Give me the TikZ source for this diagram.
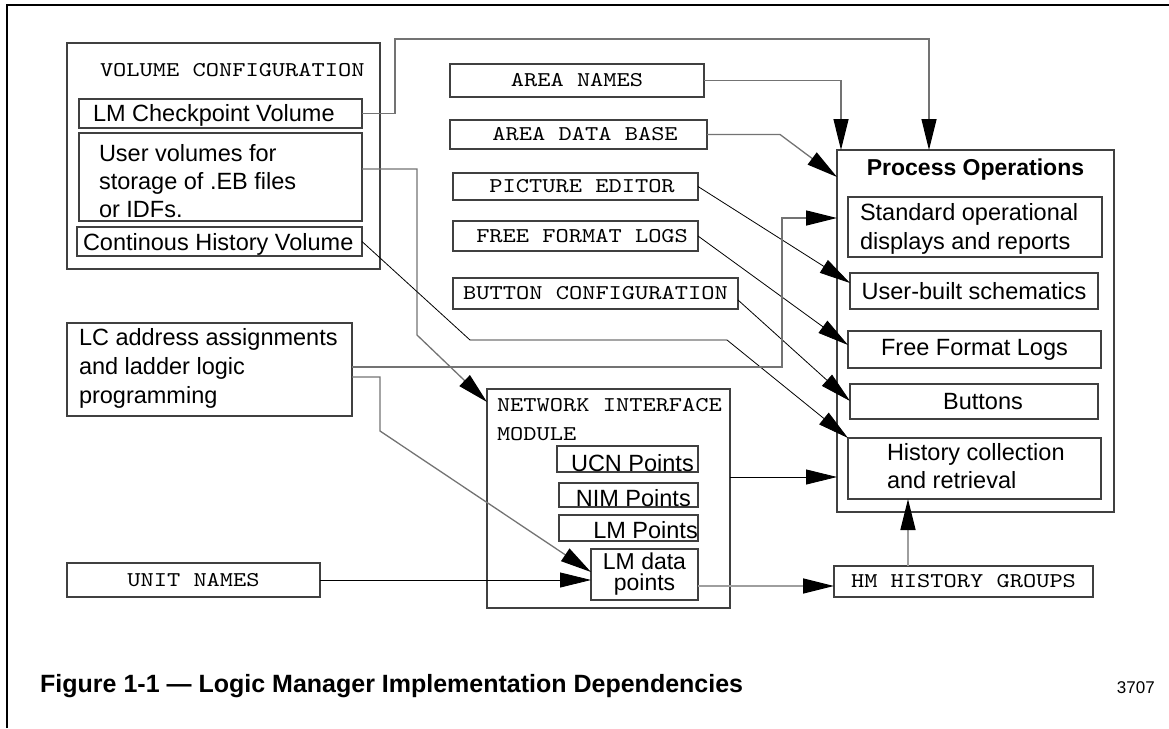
\documentclass[tikz,border=0pt]{standalone}
\usepackage{fontspec}
\setmainfont{Liberation Sans}
\newfontfamily\codefont[FakeStretch=1.2]{lmmono10-regular.otf}
\usetikzlibrary{arrows.meta,calc}

\definecolor{boxline}{gray}{0.25}
\definecolor{wirecol}{gray}{0.45}
\definecolor{lightwire}{gray}{0.62}

\newcommand\sansfs{\fontsize{23.5}{29}\selectfont}
\newcommand\codefs{\codefont\fontsize{21}{29}\selectfont}

\tikzset{
  box/.style={draw=boxline, line width=1.3pt, inner sep=0pt, outer sep=0pt},
  monobox/.style={box, font=\codefs},
  sansbox/.style={box, font=\sansfs},
  % multi-line texts are placed by the baseline of their last line
  txt/.style={inner sep=0pt, outer sep=0pt, anchor=base west, align=left},
  wire/.style={draw=wirecol, line width=1.3pt},
  thinwire/.style={draw=black, line width=0.8pt},
  palewire/.style={draw=lightwire, line width=1.6pt},
  bigtip/.style={-{Triangle[length=31pt,width=15pt,color=black]}},
}

\begin{document}
\begin{tikzpicture}[x=1pt,y=-1pt]
\useasboundingbox (0,0) rectangle (1169,728);

% page frame (top and left rules)
\draw[line width=2.7pt] (7,728) -- (7,5) -- (1169,5);

% ---- volume configuration group
\node[box, minimum width=313, minimum height=226] (volcfg) at (223.5,156) {};
\node[txt, font=\codefs] (volcfgtitle) at (100,76) {VOLUME CONFIGURATION};
\node[sansbox, minimum width=283, minimum height=29] (lmcp) at (220.5,113.5) {};
\node[txt, font=\sansfs] (lmcptext) at (93,121) {LM Checkpoint Volume};
\node[sansbox, minimum width=283, minimum height=88] (uvol) at (220.5,177) {};
\node[txt, font=\fontsize{23.5}{28}\selectfont] (uvoltext) at (99,217)
  {User volumes for\\storage of .EB files\\or IDFs.};
\node[sansbox, minimum width=285, minimum height=29] (chv) at (219.5,241.5) {};
\node[txt, font=\sansfs] (chvtext) at (83,250) {Continous History Volume};

% ---- configuration sources
\node[monobox, minimum width=254, minimum height=33] (areanames) at (577,80.5) {AREA NAMES};
\node[monobox, minimum width=257, minimum height=29] (areadb) at (578.5,134.5) {\hspace*{13.2pt}AREA DATA BASE};
\node[monobox, minimum width=245, minimum height=27] (piced) at (575.5,186.5) {\hspace*{13.2pt}PICTURE EDITOR};
\node[monobox, minimum width=245, minimum height=30] (ffl) at (575.5,236) {\hspace*{13.2pt}FREE FORMAT LOGS};
\node[monobox, minimum width=285, minimum height=31] (btncfg) at (595.5,293.5) {BUTTON CONFIGURATION};

\node[sansbox, minimum width=285, minimum height=93] (lc) at (209.5,369.5) {};
\node[txt, font=\sansfs] (lctext) at (79,403)
  {LC address assignments\\and ladder logic\\programming};

\node[monobox, minimum width=253, minimum height=34] (unitnames) at (193.5,580) {UNIT NAMES};

% ---- network interface module
\node[box, minimum width=243, minimum height=219] (nim) at (608.5,498.5) {};
\node[txt, font=\codefs] (nimtitle) at (497,440) {NETWORK INTERFACE\\MODULE};
\node[box, minimum width=141, minimum height=26] (ucn) at (627.5,459) {};
\node[inner sep=0pt, anchor=base east, font=\sansfs] (ucntext) at (694,471) {UCN Points};
\node[box, minimum width=139, minimum height=24] (nimpts) at (628.5,495) {};
\node[inner sep=0pt, anchor=base east, font=\sansfs] (nimptstext) at (691,506) {NIM Points};
\node[box, minimum width=139, minimum height=26] (lmpts) at (628.5,528) {};
\node[inner sep=0pt, anchor=base east, font=\sansfs] (lmptstext) at (698,538) {LM Points};
\node[box, minimum width=107, minimum height=51, align=center,
      font=\fontsize{23}{21}\selectfont] (lmdata) at (644.5,574.5) {LM data\\points};

% ---- process operations
\node[box, minimum width=277, minimum height=362] (procops) at (975.5,331) {};
\node[inner sep=0pt, anchor=base, font=\bfseries\fontsize{23}{28}\selectfont] (procopstitle)
  at (975.5,175) {Process Operations};
\node[sansbox, minimum width=254, minimum height=60] (stdops) at (975,227) {};
\node[txt, font=\sansfs] (stdopstext) at (860,249) {Standard operational\\displays and reports};
\node[sansbox, minimum width=248, minimum height=36] (userbuilt) at (974,291) {User-built schematics};
\node[sansbox, minimum width=253, minimum height=37] (freefmt) at (974.5,349.5) {Free Format Logs};
\node[sansbox, minimum width=248, minimum height=35] (buttons) at (974,401.5) {\hspace*{18pt}Buttons};
\node[sansbox, minimum width=253, minimum height=61] (histcoll) at (974.5,468.5) {};
\node[txt, font=\fontsize{23.5}{28}\selectfont] (histcolltext) at (887,488) {History collection\\and retrieval};

\node[monobox, minimum width=259, minimum height=31] (hmhist) at (963.5,581.5) {HM HISTORY GROUPS};

% ---- connectors
\draw[wire,bigtip] (lmcp.east) -| (395,39) -| ($(procops.north)+(-46.5,0)$);
\draw[wire,bigtip] (areanames.east) -| ($(procops.north)+(-134.5,0)$);
\draw[wire,bigtip] (areadb.east) -- ++(73,0) -- ($(procops.north west)+(0,27)$);
\draw[thinwire,bigtip] (piced.east) -- ($(userbuilt.north west)+(0,10)$);
\draw[thinwire,bigtip] (ffl.east) -- ($(freefmt.north west)+(0,14)$);
\draw[thinwire,bigtip] ($(btncfg.east)+(0,6.5)$) -- ($(buttons.north west)+(0,17)$);
\draw[wire,bigtip] ($(uvol.east)+(0,-8)$) -| (417,335) -- ($(nim.north west)+(0,13)$);
\draw[thinwire,bigtip] (chv.east) -- (470,340) -- (727,340) -- (histcoll.north west);
\draw[wire,bigtip] ($(lc.east)+(0,-2.5)$) -| (782,218) -- ($(procops.north west)+(0,68)$);
\draw[wire,bigtip] ($(lc.east)+(0,7.5)$) -| (380,431) -- ($(lmdata.north west)+(0,23)$);
\draw[thinwire,bigtip] (unitnames.east) -- (unitnames.east -| lmdata.west);
\coordinate (nimout) at ($(nim.north east)+(0,88)$);
\draw[thinwire,bigtip] (nimout) -- (nimout -| procops.west);
\coordinate (lmout) at ($(lmdata.east)+(0,11.5)$);
\draw[palewire,bigtip] (lmout) -- (lmout -| hmhist.west);
\coordinate (hmup) at ($(hmhist.north)+(-55.5,0)$);
\draw[palewire,bigtip] (hmup) -- (hmup |- histcoll.south);

% ---- caption
\node[inner sep=0pt, anchor=base west, font=\bfseries\fontsize{25}{30}\selectfont] (caption)
  at (40,692) {Figure 1-1 — Logic Manager Implementation Dependencies};
\node[inner sep=0pt, anchor=base east, font=\fontsize{17}{20}\selectfont] (fignum)
  at (1155,693) {3707};
\end{tikzpicture}
\end{document}
